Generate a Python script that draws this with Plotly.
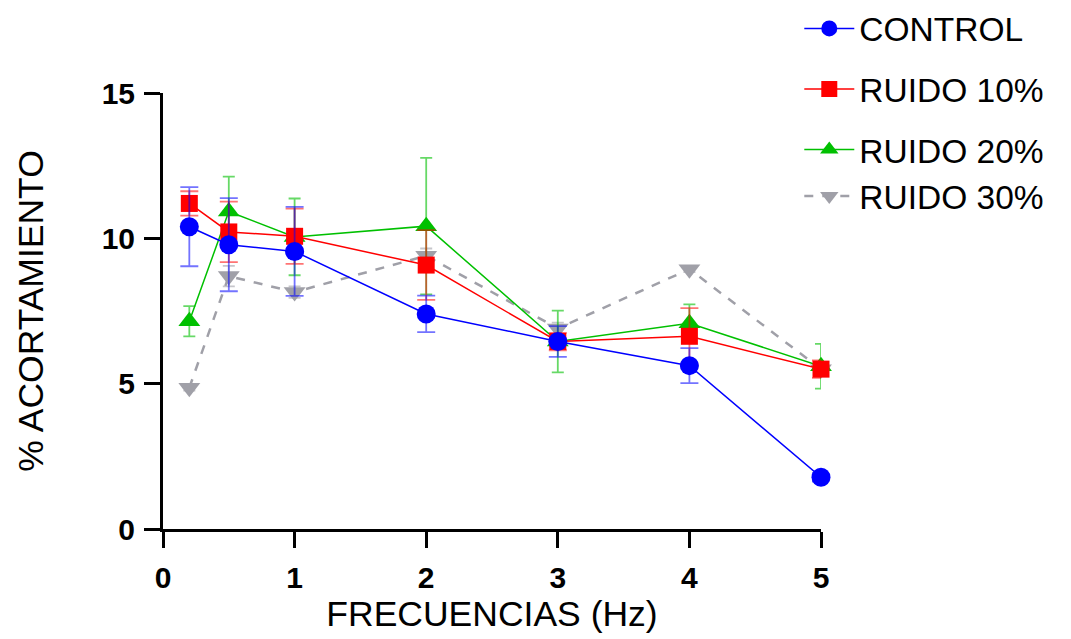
import plotly.graph_objects as go

freq = [0.2, 0.5, 1, 2, 3, 4, 5]

control = [10.4, 9.78, 9.55, 7.4, 6.45, 5.62, 1.78]
control_err = [1.36, 1.6, 1.53, 0.63, 0.53, 0.6, 0.15]

ruido10 = [11.2, 10.22, 10.07, 9.08, 6.45, 6.63, 5.5]
ruido10_err = [0.42, 1.04, 0.95, 1.2, 0.3, 0.97, 0.3]

ruido20 = [7.15, 10.92, 10.05, 10.42, 6.45, 7.08, 5.6]
ruido20_err = [0.52, 1.2, 1.32, 2.35, 1.06, 0.65, 0.77]

ruido30 = [4.86, 8.7, 8.15, 9.4, 6.9, 8.94, 5.5]
ruido30_err = [0.1, 0.35, 0.2, 0.25, 0.2, 0.1, 0.2]

names = ["CONTROL", "RUIDO 10%", "RUIDO 20%", "RUIDO 30%"]

FONT = "Liberation Sans, Arial, sans-serif"

series = [
    # name, y, err, color, errcolor, symbol, size, dash, width, capwidth, rank, group
    (names[3], ruido30, ruido30_err, "#a0a0a8", "rgba(160,160,168,0.6)", "triangle-down", 19, "dash", 2.5, 6, 4, "c"),
    (names[2], ruido20, ruido20_err, "#00c000", "rgba(0,192,0,0.6)", "triangle-up", 19, "solid", 1.5, 6, 3, "c"),
    (names[1], ruido10, ruido10_err, "#ff0000", "rgba(255,0,0,0.55)", "square", 17, "solid", 1.5, 9, 2, "b"),
    (names[0], control, control_err, "#0000ff", "rgba(0,0,255,0.55)", "circle", 19, "solid", 1.5, 9, 1, "a"),
]

fig = go.Figure()
for name, y, err, col, ecol, sym, size, dash, w, cw, rank, grp in series:
    fig.add_trace(go.Scatter(
        x=freq, y=y, name=name, mode="lines+markers",
        line=dict(color=col, width=w, dash=dash),
        marker=dict(color=col, symbol=sym, size=size, line=dict(width=0)),
        error_y=dict(type="data", array=err, visible=True, color=ecol,
                     thickness=1.8, width=cw),
        cliponaxis=False, legendrank=rank, legendgroup=grp,
    ))

fig.update_layout(
    width=1071, height=639,
    margin=dict(l=155, r=258, t=85, b=118, autoexpand=False),
    paper_bgcolor="white", plot_bgcolor="white",
    font=dict(family=FONT, size=33, color="black"),
    showlegend=True,
    legend=dict(x=0.967, y=1.213, xanchor="left", yanchor="top",
                font=dict(family=FONT, size=33.5, color="black"),
                traceorder="grouped", tracegroupgap=14,
                bgcolor="rgba(0,0,0,0)", itemwidth=50),
)

fig.update_xaxes(
    range=[0, 5], tickvals=[0, 1, 2, 3, 4, 5], ticktext=["0", "1", "2", "3", "4", "5"],
    showgrid=False, zeroline=False, showline=True, linecolor="black", linewidth=3,
    ticks="outside", ticklen=16, tickwidth=3, tickcolor="black", ticklabelstandoff=4,
    tickfont=dict(family=FONT, size=30, color="black", weight="bold"),
    title=dict(text="FRECUENCIAS (Hz)", font=dict(family=FONT, size=35.5), standoff=9),
    automargin=False,
)
fig.update_yaxes(
    range=[0, 15], tickvals=[0, 5, 10, 15], ticktext=["0", "5", "10", "15"],
    showgrid=False, zeroline=False, showline=True, linecolor="black", linewidth=3,
    ticks="outside", ticklen=16, tickwidth=3, tickcolor="black", ticklabelstandoff=3,
    tickfont=dict(family=FONT, size=30, color="black", weight="bold"),
    title=dict(text="% ACORTAMIENTO", font=dict(family=FONT, size=35.5), standoff=48),
    automargin=False,
)

fig.write_html("out.html")
